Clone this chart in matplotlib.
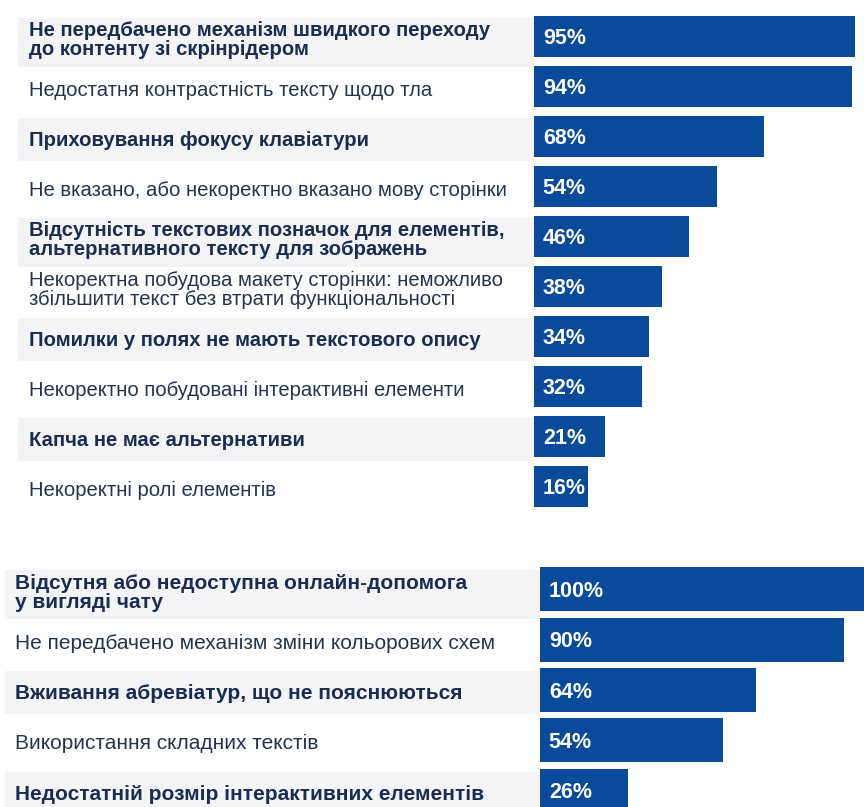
import matplotlib.pyplot as plt

plt.rcParams['font.family'] = ['Liberation Sans', 'DejaVu Sans']

# верхня група
top_labels = [
    'Не передбачено механізм швидкого переходу\nдо контенту зі скрінрідером',
    'Недостатня контрастність тексту щодо тла',
    'Приховування фокусу клавіатури',
    'Не вказано, або некоректно вказано мову сторінки',
    'Відсутність текстових позначок для елементів,\nальтернативного тексту для зображень',
    'Некоректна побудова макету сторінки: неможливо\nзбільшити текст без втрати функціональності',
    'Помилки у полях не мають текстового опису',
    'Некоректно побудовані інтерактивні елементи',
    'Капча не має альтернативи',
    'Некоректні ролі елементів',
]
top_values = [95, 94, 68, 54, 46, 38, 34, 32, 21, 16]

# нижня група
bottom_labels = [
    'Відсутня або недоступна онлайн-допомога\nу вигляді чату',
    'Не передбачено механізм зміни кольорових схем',
    'Вживання абревіатур, що не пояснюються',
    'Використання складних текстів',
    'Недостатній розмір інтерактивних елементів',
]
bottom_values = [100, 90, 64, 54, 26]

W, H = 864, 807
BAR = '#0a4a9b'
TXT_BOLD = '#1a2c52'
TXT_REG = '#263350'
STRIPE = '#f4f4f6'
PX_PER_PCT = 3.38

fig = plt.figure(figsize=(W / 100, H / 100), dpi=100)


def draw_group(labels, values, top_px, pitch, bar_x0, text_x, stripe_x0, bar_h, fs):
    n = len(values)
    h_px = pitch * n
    ax = fig.add_axes([0, 1 - (top_px + h_px) / H, 1, h_px / H])
    x_min = -bar_x0 / PX_PER_PCT
    x_max = (W - bar_x0) / PX_PER_PCT
    ax.set_xlim(x_min, x_max)
    ax.set_ylim(n - 0.5, -0.5)
    ax.axis('off')
    ys = list(range(n))
    for i in ys:
        if i % 2 == 0:
            # світла смуга під жирними рядками
            extra = 0.12 if '\n' in labels[i] else 0
            ax.fill_between([stripe_x0 / PX_PER_PCT + x_min, 0], i - 0.38, i + 0.48 + extra,
                            color=STRIPE, lw=0, zorder=0)
    ax.barh(ys, values, height=bar_h, color=BAR, zorder=2)
    for i, (lab, v) in enumerate(zip(labels, values)):
        bold = i % 2 == 0
        ax.text(text_x / PX_PER_PCT + x_min, i + 0.07, lab, va='center', ha='left',
                fontsize=fs, color=TXT_BOLD if bold else TXT_REG,
                fontweight='bold' if bold else 'normal',
                linespacing=1.0, zorder=3)
        ax.text(2.6, i + 0.04, f'{v}%', va='center', ha='left', fontsize=15.5,
                color='white', fontweight='bold', zorder=3)
    return ax


draw_group(top_labels, top_values, 11.5, 50.0, 534, 29, 18, 0.82, 14.6)
draw_group(bottom_labels, bottom_values, 564, 50.4, 540, 15, 5, 0.87, 15)

fig.savefig('out.png', dpi=100, facecolor='white')
